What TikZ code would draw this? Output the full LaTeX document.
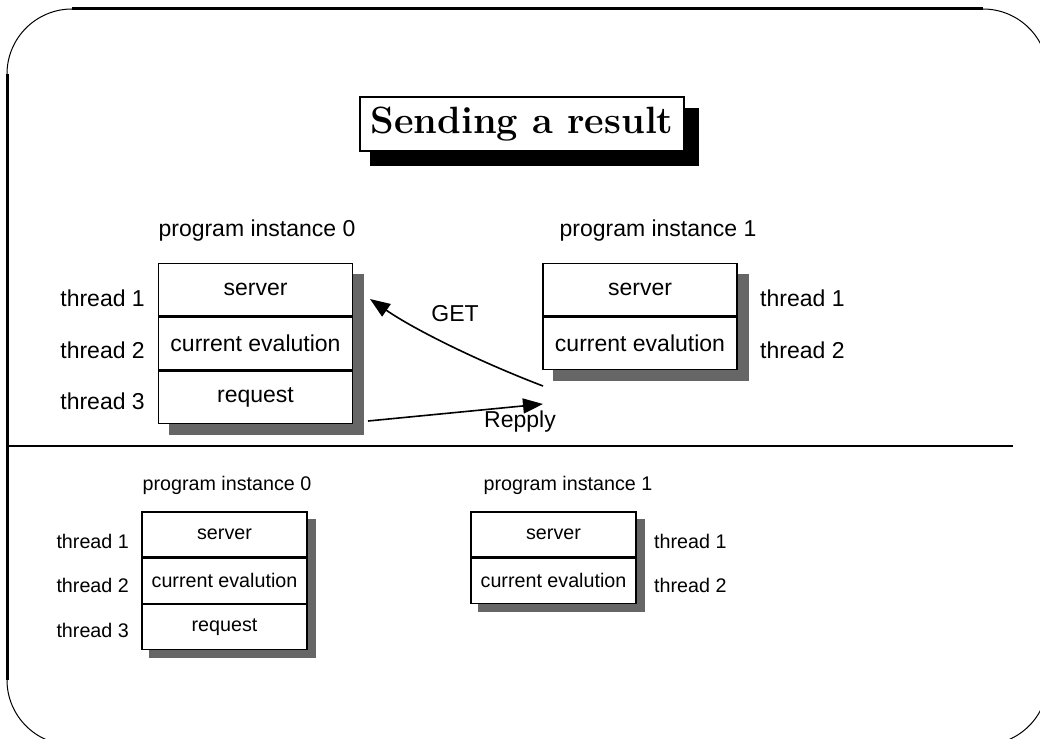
\documentclass[tikz,border=0pt]{standalone}
\usepackage{fontspec}
\newfontfamily\hv{Liberation Sans}
\usetikzlibrary{arrows.meta,backgrounds,calc}
\definecolor{shadowgray}{gray}{0.4}
\begin{document}
\begin{tikzpicture}[x=1pt,y=-1pt,
  bigfont/.style={font=\hv\fontsize{23}{27}\selectfont},
  smallfont/.style={font=\hv\fontsize{19.7}{23}\selectfont},
  cellA/.style={bigfont, draw, line width=1.4pt, fill=white, inner sep=0pt,
    minimum width=194pt, minimum height=52.5pt},
  cellB/.style={smallfont, draw, line width=1.2pt, fill=white, inner sep=0pt,
    minimum width=165pt, minimum height=45pt},
  lblA/.style={bigfont, inner sep=0pt},
  lblB/.style={smallfont, inner sep=0pt},
  shade/.style={fill=shadowgray, draw=none},
  msg/.style={line width=1.6pt, -{Triangle[length=20pt,width=15pt]}},
  frameline/.style={line width=3pt},
  framearc/.style={line width=1pt}]

\useasboundingbox (0,0) rectangle (1040,738);

% slide frame: thin rounded outline, heavy straight edges
\draw[framearc, rounded corners=65pt] (7,9) rectangle (1048,745);
\draw[frameline] (72,9) -- (983,9);
\draw[frameline] (7,74) -- (7,680);

% title with solid shadow
\node[draw, line width=2pt, fill=white, minimum width=324pt, minimum height=54pt,
  inner sep=0pt, font=\fontsize{38}{45}\selectfont\bfseries] (title) at (522,124) {Sending a result};
\begin{scope}[on background layer]
  \fill[black] ($(title.north west)+(11,12)$) rectangle ($(title.south east)+(14,14)$);
\end{scope}

% ---------- upper part ----------
\node[lblA] (hA0) at (257,231) {program instance 0};
\node[lblA] (hA1) at (658,231) {program instance 1};

\node[cellA] (a1) at (255.5,289.5) {server};
\node[cellA, anchor=north] (a2) at (a1.south) {current evalution};
\node[cellA, anchor=north] (a3) at (a2.south) {request};

\node[cellA] (b1) at (640,289.5) {server};
\node[cellA, anchor=north] (b2) at (b1.south) {current evalution};

\begin{scope}[on background layer]
  \fill[shade] ($(a1.north west)+(11,11)$) rectangle ($(a3.south east)+(11,11)$);
  \fill[shade] ($(b1.north west)+(11,11)$) rectangle ($(b2.south east)+(11,11)$);
\end{scope}

\node[lblA, anchor=east] (ta1) at (145,298) {thread 1};
\node[lblA, anchor=east] (ta2) at (145,350) {thread 2};
\node[lblA, anchor=east] (ta3) at (145,401) {thread 3};
\node[lblA, anchor=west] (tb1) at (760,298) {thread 1};
\node[lblA, anchor=west] (tb2) at (760,350) {thread 2};

% messages between the two instances
\coordinate (getfrom) at (543,386);
\coordinate (getto) at (370,299);
\draw[msg] (getfrom) .. controls (480,362) and (415,330) .. (getto);
\node[lblA] (get) at (455,314) {GET};

\coordinate (replyfrom) at (368,421);
\coordinate (replyto) at (543,404);
\draw[msg] (replyfrom) -- (replyto);
\node[lblA] (repply) at (520,422) {Repply};

% separator
\draw[line width=1.5pt] (7,446) -- (1013,446);

% ---------- lower part ----------
\node[lblB] (hC0) at (227,485) {program instance 0};
\node[lblB] (hC1) at (568,485) {program instance 1};

\node[cellB] (c1) at (224.5,534.5) {server};
\node[cellB, anchor=north] (c2) at (c1.south) {current evalution};
\node[cellB, anchor=north] (c3) at (c2.south) {request};

\node[cellB] (d1) at (553.5,534.5) {server};
\node[cellB, anchor=north] (d2) at (d1.south) {current evalution};

\begin{scope}[on background layer]
  \fill[shade] ($(c1.north west)+(8,8)$) rectangle ($(c3.south east)+(8,8)$);
  \fill[shade] ($(d1.north west)+(8,8)$) rectangle ($(d2.south east)+(8,8)$);
\end{scope}

\node[lblB, anchor=east] (tc1) at (129,541) {thread 1};
\node[lblB, anchor=east] (tc2) at (129,585) {thread 2};
\node[lblB, anchor=east] (tc3) at (129,630) {thread 3};
\node[lblB, anchor=west] (td1) at (654,541) {thread 1};
\node[lblB, anchor=west] (td2) at (654,585) {thread 2};

\end{tikzpicture}
\end{document}
